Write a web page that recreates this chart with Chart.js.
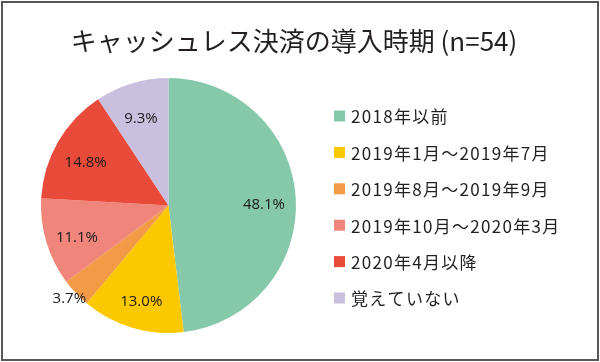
<!DOCTYPE html>
<html>
<head>
<meta charset="utf-8">
<script src="https://cdn.jsdelivr.net/npm/chart.js@4"></script>
<style>
  html, body { margin: 0; padding: 0; background: #fff; }
  #wrap { width: 600px; height: 362px; }
</style>
</head>
<body>
<div id="wrap"><canvas id="pie" width="600" height="362"></canvas></div>
<script>
// Data
const chartTitle = "キャッシュレス決済の導入時期 (n=54)";
const categories = ["2018年以前", "2019年1月～2019年7月", "2019年8月～2019年9月", "2019年10月～2020年3月", "2020年4月以降", "覚えていない"];
const shares = [48.1, 13.0, 3.7, 11.1, 14.8, 9.3];
const sliceColors = ["#86c9aa", "#fcc800", "#f39a47", "#f0857c", "#e94b3b", "#c9bfdf"];

const jpFont = "'Noto Sans CJK JP', 'Noto Sans', sans-serif";

// Frame, title and legend drawn around the pie
const decorations = {
    id: "decorations",
    beforeDraw(chart) {
        const ctx = chart.ctx;
        ctx.save();
        ctx.fillStyle = "#fff";
        ctx.fillRect(0, 0, chart.width, chart.height);
        ctx.strokeStyle = "#5a5657";
        ctx.lineWidth = 2;
        ctx.strokeRect(2, 2, chart.width - 4, chart.height - 4);
        ctx.restore();
    },
    afterDraw(chart) {
        const ctx = chart.ctx;
        ctx.save();
        // Title
        ctx.fillStyle = "#231f20";
        ctx.font = `26px ${jpFont}`;
        ctx.textAlign = "center";
        ctx.textBaseline = "middle";
        ctx.fillText(chartTitle, 294, 41);

        // Legend
        ctx.font = `17px ${jpFont}`;
        ctx.letterSpacing = "1.3px";
        ctx.textAlign = "left";
        categories.forEach((c, i) => {
            const y = 116 + i * 36.4;
            ctx.fillStyle = sliceColors[i];
            ctx.fillRect(334, y - 5.5, 11, 11);
            ctx.fillStyle = "#231f20";
            ctx.fillText(c, 351, y + 1);
        });
        ctx.letterSpacing = "0px";

        // Percent labels on slices (small slice gets its label outside)
        const meta = chart.getDatasetMeta(0);
        ctx.font = "15px 'Open Sans', sans-serif";
        ctx.textAlign = "center";
        ctx.fillStyle = "#1a1a1a";
        meta.data.forEach((arc, i) => {
            const mid = (arc.startAngle + arc.endAngle) / 2;
            const outside = shares[i] < 5;
            const k = outside ? 1.07 : 0.75;
            const x = arc.x + Math.cos(mid) * arc.outerRadius * k;
            const y = arc.y + Math.sin(mid) * arc.outerRadius * k + (outside ? 0 : 5);
            ctx.fillText(shares[i].toFixed(1) + "%", x, y);
        });
        ctx.restore();
    }
};

new Chart(document.getElementById("pie"), {
    type: "pie",
    data: {
        labels: categories,
        datasets: [{ data: shares, backgroundColor: sliceColors, borderWidth: 0 }]
    },
    options: {
        responsive: false,
        animation: false,
        layout: { padding: { left: 41, top: 78, right: 304, bottom: 29 } },
        plugins: {
            legend: { display: false },
            tooltip: { enabled: false },
            title: { display: false }
        }
    },
    plugins: [decorations]
});
</script>
</body>
</html>
